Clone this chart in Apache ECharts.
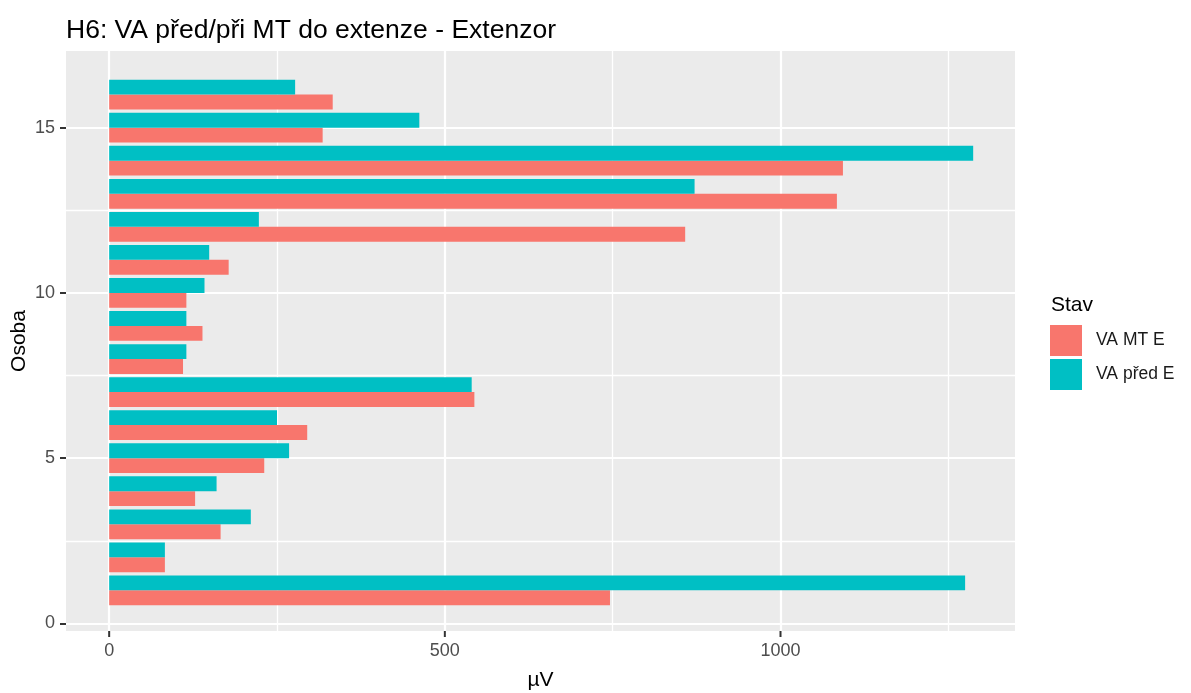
<!DOCTYPE html>
<html>
<head>
<meta charset="utf-8">
<script src="https://cdn.jsdelivr.net/npm/echarts@6/dist/echarts.min.js"></script>
<style>
  html, body { margin: 0; padding: 0; background: #fff; }
  #chart { width: 1191px; height: 693px; }
</style>
</head>
<body>
<div id="chart"></div>
<script>
// osoby 1..16, hodnoty v µV
var osoby = [1, 2, 3, 4, 5, 6, 7, 8, 9, 10, 11, 12, 13, 14, 15, 16];
var vaMT = [746, 83, 166, 128, 231, 295, 544, 110, 139, 115, 178, 858, 1084, 1093, 318, 333];
var vaPred = [1275, 83, 211, 160, 268, 250, 540, 115, 115, 142, 149, 223, 872, 1287, 462, 277];
var xTicks = [0, 500, 1000];
var xMinor = [250, 750, 1250];
var yTicks = [0, 5, 10, 15];
var yMinor = [2.5, 7.5, 12.5];

var red = '#F8766D', teal = '#00BFC4';
var font = '"Liberation Sans", Arial, sans-serif';
var pul = 0.45; // sirka jednoho sloupce (dodge 0.9)
var yMin = -0.23, yMax = 17.32;

function pairs(vals) {
  return vals.map(function (v, i) { return [v, osoby[i]]; });
}

// vodorovny sloupec, posun: 0 = nad osou osoby, -1 = pod ni
function barRenderer(posun) {
  return function (params, api) {
    var x = api.value(0), y = api.value(1);
    var a = api.coord([0, y + (posun + 1) * pul]);
    var b = api.coord([x, y + posun * pul]);
    return {
      type: 'rect',
      shape: { x: a[0], y: a[1], width: b[0] - a[0], height: b[1] - a[1] },
      style: { fill: api.visual('color') }
    };
  };
}

// mrizka jako markLine (ggplot styl)
var gridLines = [];
xTicks.forEach(function (v) { gridLines.push({ xAxis: v, lineStyle: { width: 2.2 } }); });
xMinor.forEach(function (v) { gridLines.push({ xAxis: v, lineStyle: { width: 1.3 } }); });
yTicks.forEach(function (v) { gridLines.push({ yAxis: v, lineStyle: { width: 2.2 } }); });
yMinor.forEach(function (v) { gridLines.push({ yAxis: v, lineStyle: { width: 1.3 } }); });

var chart = echarts.init(document.getElementById('chart'), null, { renderer: 'canvas' });
var osaLine = { show: true, onZero: false, lineStyle: { color: 'rgba(0,0,0,0)' } };
var option = {
  animation: false,
  title: [{
    text: 'H6: VA před/při MT do extenze - Extenzor',
    left: 61, top: 12,
    textStyle: { fontFamily: font, fontSize: 26.5, fontWeight: 'normal', color: '#000' }
  }, {
    text: 'Stav',
    left: 1046, top: 290,
    textStyle: { fontFamily: font, fontSize: 21, fontWeight: 'normal', color: '#000' }
  }],
  legend: {
    data: ['VA MT E', 'VA před E'],
    orient: 'vertical',
    left: 1050, top: 325,
    padding: 0,
    itemWidth: 32, itemHeight: 31, itemGap: 3,
    icon: 'rect',
    textStyle: { fontFamily: font, fontSize: 17.5, color: '#1a1a1a', padding: [0, 0, 0, 9] }
  },
  grid: {
    left: 66, right: 176, top: 51, bottom: 62,
    outerBoundsMode: 'none',
    show: true, backgroundColor: '#EBEBEB', borderWidth: 0
  },
  xAxis: {
    type: 'value', min: -64.3, max: 1349.3,
    position: 'bottom',
    name: 'µV', nameLocation: 'middle', nameGap: 39, nameMoveOverlap: false,
    nameTextStyle: { fontFamily: font, fontSize: 21, color: '#000' },
    axisLine: osaLine,
    axisTick: { show: false },
    axisLabel: {
      customValues: xTicks, margin: 11, fontFamily: font, fontSize: 18, color: '#4D4D4D',
      formatter: function (v) { return String(v); }
    },
    splitLine: { show: false }
  },
  yAxis: {
    type: 'value', min: yMin, max: yMax,
    name: 'Osoba', nameLocation: 'middle', nameGap: 36, nameRotate: 90, nameMoveOverlap: false,
    nameTextStyle: { fontFamily: font, fontSize: 21, color: '#000' },
    axisLine: osaLine,
    axisTick: { show: true, length: 6, customValues: yTicks, lineStyle: { color: '#333', width: 2 } },
    axisLabel: {
      customValues: yTicks, margin: 11, fontFamily: font, fontSize: 18, color: '#4D4D4D',
      formatter: function (v) { return String(v); }
    },
    splitLine: { show: false }
  },
  series: [{
    name: 'VA MT E',
    type: 'custom',
    renderItem: barRenderer(-1),
    encode: { x: 0, y: 1 },
    data: pairs(vaMT),
    itemStyle: { color: red },
    z: 3,
    markLine: {
      silent: true, symbol: 'none', z: 1,
      label: { show: false },
      lineStyle: { color: '#fff', type: 'solid' },
      data: gridLines
    }
  }, {
    name: 'VA před E',
    type: 'custom',
    renderItem: barRenderer(0),
    encode: { x: 0, y: 1 },
    data: pairs(vaPred),
    itemStyle: { color: teal },
    z: 3
  }]
};
chart.setOption(option);

// carky na ose x (prepocet pres osu grafu)
var carky = xTicks.map(function (v) {
  var p = chart.convertToPixel({ gridIndex: 0 }, [v, yMin]);
  return {
    type: 'rect',
    z: 100,
    shape: { x: p[0] - 1, y: p[1], width: 2, height: 6 },
    style: { fill: '#333' },
    silent: true
  };
});
chart.setOption({ graphic: { elements: carky } });
</script>
</body>
</html>
